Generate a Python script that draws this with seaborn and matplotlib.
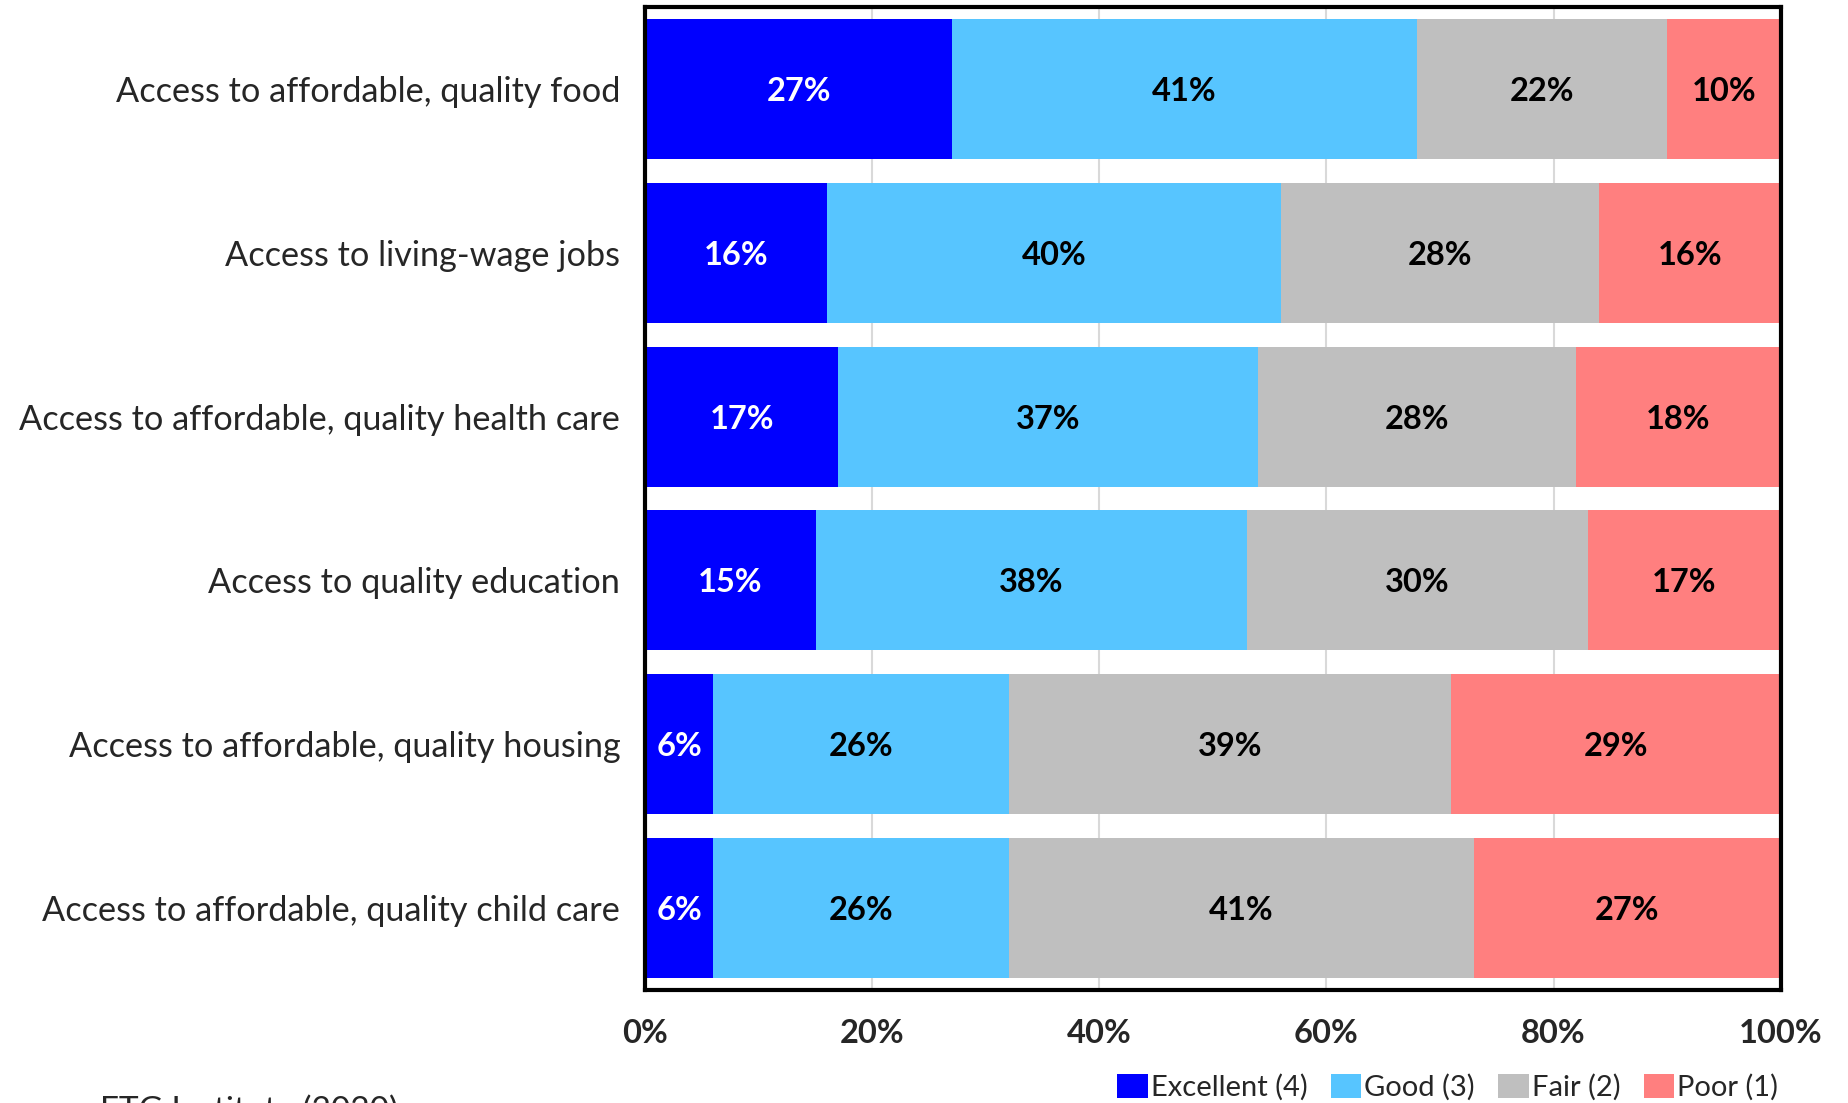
import numpy as np
import pandas as pd
import matplotlib
matplotlib.use("Agg")
import matplotlib.pyplot as plt
from matplotlib.patches import Patch
import seaborn as sns

# Survey results: share of ratings per community service
categories = [
    "Access to affordable, quality food",
    "Access to living-wage jobs",
    "Access to affordable, quality health care",
    "Access to quality education",
    "Access to affordable, quality housing",
    "Access to affordable, quality child care",
]
excellent = [27, 16, 17, 15, 6, 6]
good = [41, 40, 37, 38, 26, 26]
fair = [22, 28, 28, 30, 39, 41]
poor = [10, 16, 18, 17, 29, 27]

series_names = ["Excellent (4)", "Good (3)", "Fair (2)", "Poor (1)"]
series_values = [excellent, good, fair, poor]
series_colors = ["#0000FF", "#57C5FF", "#BFBFBF", "#FF7F7F"]
label_colors = ["white", "black", "black", "black"]
x_ticks = [0, 20, 40, 60, 80, 100]
source_note = "FTG Institute (2020)"

sns.set_theme(style="white")
plt.rcParams["font.family"] = ["Lato", "DejaVu Sans"]

fig = plt.figure(figsize=(18.49, 11.03), dpi=100)
ax = fig.add_axes([0.349, 0.1024, 0.614, 0.8913])

vals = np.array(series_values, dtype=float)
cum = np.cumsum(vals, axis=0)

# Stacked bars: draw cumulative totals from the outermost segment inward
for i in reversed(range(len(series_names))):
    df = pd.DataFrame({"category": categories, "value": cum[i]})
    sns.barplot(data=df, x="value", y="category", orient="h",
                color=series_colors[i], saturation=1, width=0.855,
                linewidth=0, ax=ax, zorder=2)

# Segment labels
for i in range(len(series_names)):
    for j in range(len(categories)):
        center = cum[i][j] - vals[i][j] / 2
        ax.text(center, j, f"{int(vals[i][j])}%", ha="center",
                va="center_baseline", color=label_colors[i], fontsize=23.5,
                fontweight="bold", zorder=3)

ax.set_xlim(0, 100)
ax.set_ylim(len(categories) - 0.5, -0.5)
ax.set_xticks(x_ticks)
ax.set_xticklabels([f"{t}%" for t in x_ticks], fontsize=23.5,
                   fontweight="bold")
ax.tick_params(axis="x", length=0, pad=20.5)
ax.tick_params(axis="y", length=0, pad=18, labelsize=24.7)
ax.set_xlabel("")
ax.set_ylabel("")
ax.grid(axis="x", color="#D9D9D9", linewidth=1.5, zorder=0)
ax.set_axisbelow(True)
for s in ax.spines.values():
    s.set_visible(True)
    s.set_color("black")
    s.set_linewidth(3)

handles = [Patch(facecolor=c, edgecolor="none") for c in series_colors]
fig.legend(handles, series_names, loc="lower right", ncol=4,
           bbox_to_anchor=(0.976, -0.022), frameon=False, fontsize=21,
           handlelength=1.05, handleheight=0.85, handletextpad=0.1,
           columnspacing=0.8)

fig.text(0.054, 0.0065, source_note, fontsize=24, va="top", ha="left")

fig.savefig("out.png", dpi=100)
